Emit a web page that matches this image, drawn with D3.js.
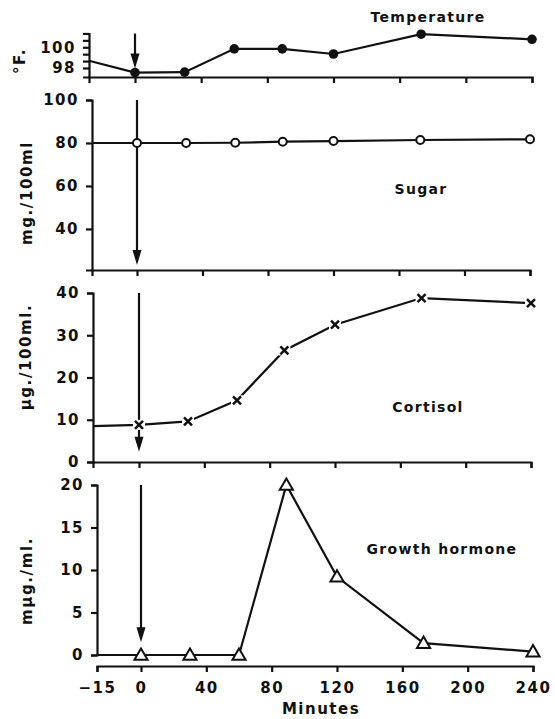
<!DOCTYPE html>
<html>
<head>
<meta charset="utf-8">
<script src="https://cdn.jsdelivr.net/npm/d3@7"></script>
<style>
  body { margin: 0; background: #fff; }
  text { font-family: "DejaVu Sans", sans-serif; font-weight: bold; fill: #111; }
</style>
</head>
<body>
<div id="chart"></div>
<script>
// sampling times (the -15 entry is where each trace leaves the y axis)
const minutes = [-15, 0, 30, 60, 89, 120, 173, 240];
const temperature = [98.7, 97.55, 97.6, 99.85, 99.85, 99.35, 101.26, 100.77];
const sugar = [80, 80, 80, 80.1, 80.6, 80.9, 81.4, 81.7];
const cortisol = [8.5, 8.8, 9.6, 14.6, 26.4, 32.5, 38.8, 37.6];
const growthHormone = [0, 0, 0, 0, 20, 9.2, 1.4, 0.4];

// tick values
const xTicks = [-15, 0, 40, 80, 120, 160, 200, 240];
const tempTicks = [98, 98 + 2/3, 99 + 1/3, 100, 100 + 2/3, 101 + 1/3];
const tempLabels = [98, 100];
const sugarTicks = [40, 60, 80, 100];
const cortisolTicks = [0, 10, 20, 30, 40];
const ghTicks = [0, 5, 10, 15, 20];

const W = 555, H = 719;
const ink = "#111", sw = 2.2;

const svg = d3.select("#chart")
  .append("svg")
    .attr("width", W)
    .attr("height", H);

// panel layout (each panel of the old figure sits a few px apart)
const panels = [
  { key: "temp", values: temperature, ticks: tempTicks, labels: tempLabels,
    xr: [89, 135, 532], yDomain: [97.13, 101.33], yRange: [77, 33.5],
    title: "Temperature", tx: 428, ty: 17, ylab: "\u00B0F.", lx: 20, ly: 61,
    marker: "dot", arrowTip: 97.95 },
  { key: "sugar", values: sugar, ticks: sugarTicks, labels: sugarTicks,
    xr: [92, 137, 530], yDomain: [20.9, 100], yRange: [270, 100],
    title: "Sugar", tx: 421, ty: 189, ylab: "mg./100ml", lx: 27, ly: 193,
    marker: "circle", arrowTip: 23.2 },
  { key: "cortisol", values: cortisol, ticks: cortisolTicks, labels: cortisolTicks,
    xr: [93, 139, 531], yDomain: [0, 40], yRange: [462, 293],
    title: "Cortisol", tx: 428, ty: 407, ylab: "\u03BCg./100ml.", lx: 26, ly: 357,
    marker: "x", arrowTip: 2.4 },
  { key: "gh", values: growthHormone, ticks: ghTicks, labels: ghTicks,
    xr: [97, 141, 533], yDomain: [0, 20], yRange: [655, 485],
    title: "Growth hormone", tx: 442, ty: 549, ylab: "m\u03BCg./ml.", lx: 27, ly: 581,
    marker: "triangle", arrowTip: 1.5, xAxisY: 666 }
];

panels.forEach(function(p) {
  const g = svg.append("g");

  const x = d3.scaleLinear()
    .domain([-15, 0, 240])
    .range(p.xr);
  const y = d3.scaleLinear()
    .domain(p.yDomain)
    .range(p.yRange);

  // Y axis
  const yAxis = g.append("g")
    .attr("transform", `translate(${p.xr[0]},0)`)
    .call(d3.axisLeft(y)
      .tickValues(p.ticks)
      .tickSizeOuter(0)
      .tickSize(6)
      .tickPadding(7)
      .tickFormat(d => p.labels.some(l => Math.abs(l - d) < 1e-6) ? d3.format("d")(d) : ""));

  // X axis
  const isBottom = p.key === "gh";
  const axisY = p.xAxisY || p.yRange[0];
  const xAxis = g.append("g")
    .attr("transform", `translate(0,${axisY})`)
    .call(d3.axisBottom(x)
      .tickValues(isBottom ? xTicks : xTicks.slice(1))
      .tickSizeOuter(0)
      .tickSize(6)
      .tickPadding(10)
      .tickFormat(d => isBottom ? (d < 0 ? "\u2212" + Math.abs(d) : d) : ""));

  [yAxis, xAxis].forEach(function(a) {
    a.selectAll("path, line")
      .attr("stroke", ink)
      .attr("stroke-width", sw);
    a.selectAll("text")
      .attr("fill", ink)
      .style("font-size", "15px")
      .style("letter-spacing", "1.5px");
  });

  // titles
  g.append("text")
    .attr("x", p.tx)
    .attr("y", p.ty)
    .attr("dy", "0.35em")
    .attr("text-anchor", "middle")
    .style("font-size", "14px")
    .style("letter-spacing", "1.3px")
    .text(p.title);

  g.append("text")
    .attr("transform", `translate(${p.lx},${p.ly}) rotate(-90)`)
    .attr("dy", "0.35em")
    .attr("text-anchor", "middle")
    .style("font-size", "15px")
    .style("letter-spacing", "1.6px")
    .text(p.ylab);

  // arrow at time 0
  const ax = x(0), top = y.range()[1], tip = y(p.arrowTip);
  g.append("line")
    .attr("x1", ax).attr("x2", ax)
    .attr("y1", top).attr("y2", tip - 10)
    .attr("stroke", ink)
    .attr("stroke-width", sw);
  g.append("path")
    .attr("d", `M${ax - 4.5},${tip - 15}L${ax + 4.5},${tip - 15}L${ax},${tip}Z`)
    .attr("fill", ink);

  // data line
  const pts = minutes.map((m, i) => ({ m: m, v: p.values[i] }));
  const line = d3.line()
    .x(d => x(d.m))
    .y(d => y(d.v));
  g.append("path")
    .datum(pts)
    .attr("fill", "none")
    .attr("stroke", ink)
    .attr("stroke-width", sw)
    .attr("d", line);

  const marks = pts.slice(1);
  if (p.marker === "dot") {
    g.selectAll("circle.m")
      .data(marks)
      .join("circle")
        .attr("cx", d => x(d.m))
        .attr("cy", d => y(d.v))
        .attr("r", 4.8)
        .attr("fill", ink);
  } else if (p.marker === "circle") {
    g.selectAll("circle.m")
      .data(marks)
      .join("circle")
        .attr("cx", d => x(d.m))
        .attr("cy", d => y(d.v))
        .attr("r", 4)
        .attr("fill", "#fff")
        .attr("stroke", ink)
        .attr("stroke-width", 2);
  } else if (p.marker === "x") {
    // white gap behind each cross so the line stops short of it
    g.selectAll("rect.m")
      .data(marks)
      .join("rect")
        .attr("x", d => x(d.m) - 6)
        .attr("y", d => y(d.v) - 5)
        .attr("width", 12)
        .attr("height", 10)
        .attr("fill", "#fff");
    g.selectAll("path.m")
      .data(marks)
      .join("path")
        .attr("d", function(d) {
          const cx = x(d.m), cy = y(d.v), s = 4;
          return `M${cx - s},${cy - s}L${cx + s},${cy + s}M${cx + s},${cy - s}L${cx - s},${cy + s}`;
        })
        .attr("stroke", ink)
        .attr("stroke-width", 2.5);
  } else {
    g.selectAll("path.m")
      .data(marks)
      .join("path")
        .attr("transform", d => `translate(${x(d.m)},${y(d.v) + 1})`)
        .attr("d", d3.symbol(d3.symbolTriangle, 75))
        .attr("fill", "#fff")
        .attr("stroke", ink)
        .attr("stroke-width", 2);
  }
});

// x axis title
svg.append("text")
  .attr("x", 321)
  .attr("y", 709)
  .attr("dy", "0.35em")
  .attr("text-anchor", "middle")
  .style("font-size", "15px")
  .style("letter-spacing", "1.5px")
  .text("Minutes");
</script>
</body>
</html>
